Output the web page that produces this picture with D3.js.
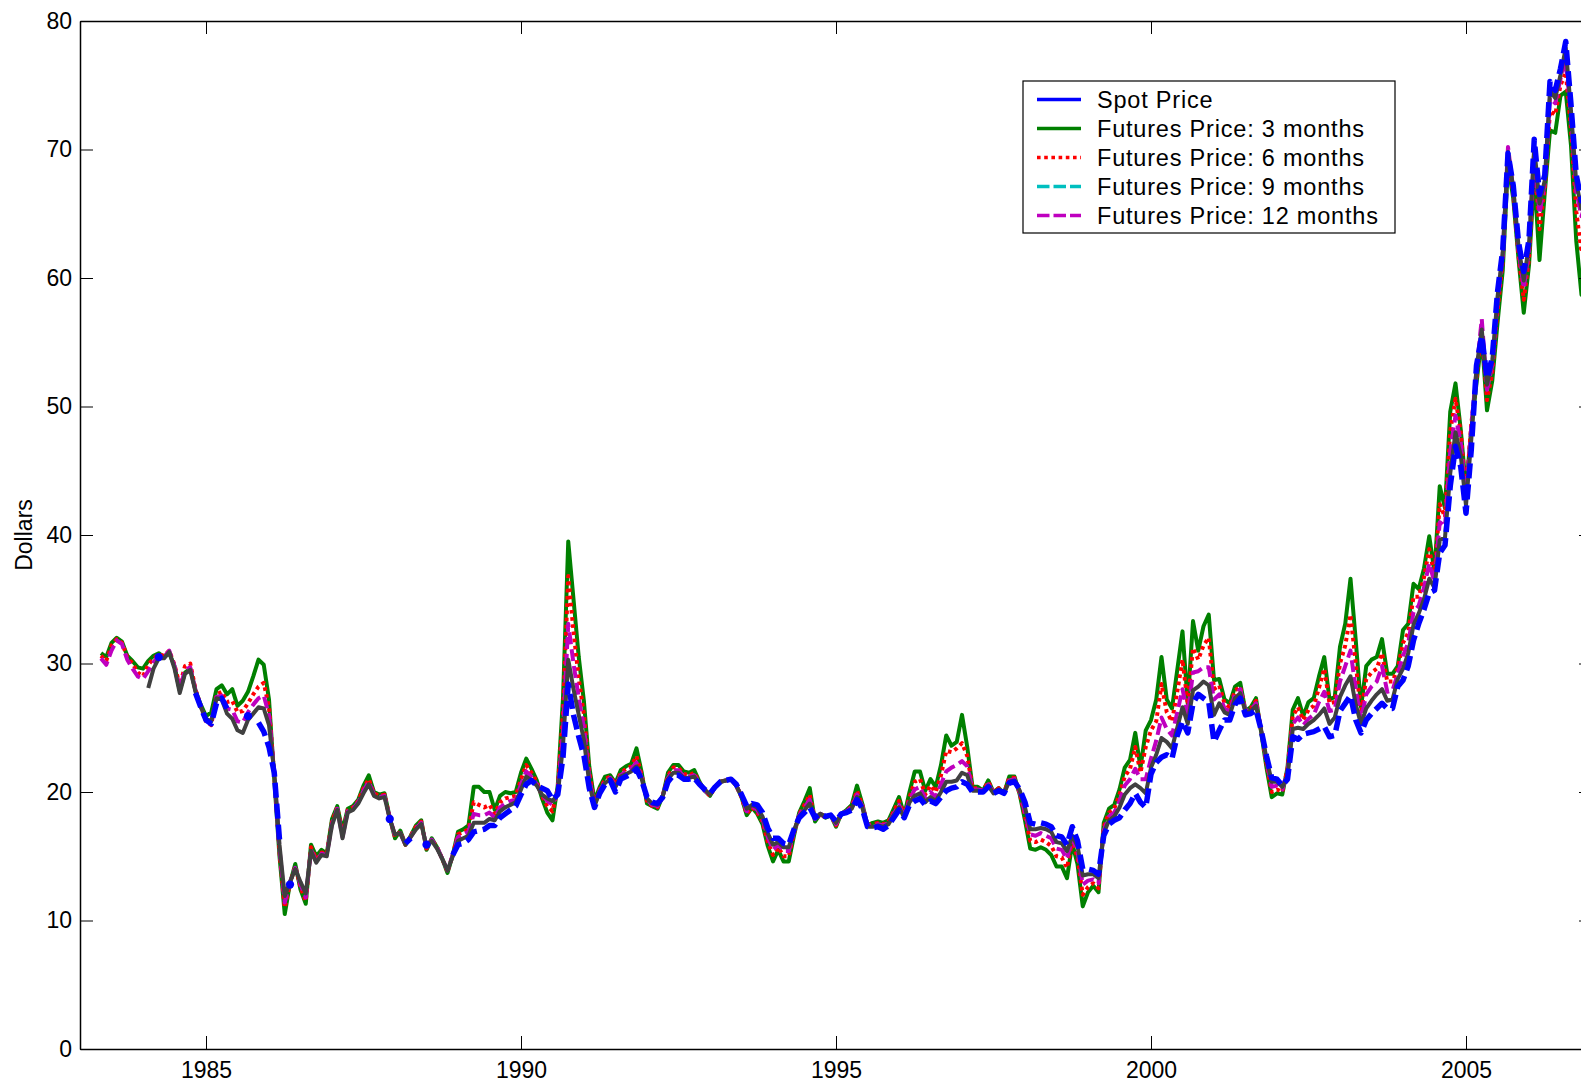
<!DOCTYPE html>
<html>
<head>
<meta charset="utf-8">
<script src="https://cdn.jsdelivr.net/npm/d3@7"></script>
<style>
  body { margin: 0; background: #fff; }
  text { font-family: "Liberation Sans", Arial, Helvetica, sans-serif; }
</style>
</head>
<body>
<svg id="chart" width="1581" height="1084"></svg>
<script>
// Month-end observations, April 1983 .. December 2006
var firstYear = 1983, firstMonth = 4;

// green solid
var spot = [
  /*1983*/ 30.8, 30.5, 31.6, 32.0, 31.7, 30.6, 30.2, 29.7, 29.6,
  /*1984*/ 30.2, 30.6, 30.8, 30.5, 30.8, 29.8, 27.9, 29.3, 29.6, 27.9, 26.8, 25.9,
  /*1985*/ 26.2, 28.0, 28.3, 27.6, 28.0, 26.7, 27.1, 27.8, 29.0, 30.3, 29.9, 27.2,
  /*1986*/ 21.0, 15.0, 10.5, 12.9, 14.4, 12.4, 11.3, 15.9, 15.0, 15.5, 15.2, 17.9,
  /*1987*/ 18.9, 17.0, 18.7, 18.9, 19.4, 20.5, 21.3, 20.0, 19.8, 19.9, 18.0, 16.4,
  /*1988*/ 17.0, 15.9, 16.6, 17.4, 17.8, 15.5, 16.4, 15.7, 14.8, 13.7, 15.1, 16.9,
  /*1989*/ 17.1, 17.4, 20.4, 20.4, 20.0, 20.0, 18.6, 19.7, 20.0, 19.9, 20.0, 21.5,
  /*1990*/ 22.6, 21.8, 20.9, 19.5, 18.4, 17.8, 20.5, 27.3, 39.5, 35.0, 30.5, 27.0,
  /*1991*/ 22.0, 19.3, 20.4, 21.2, 21.3, 20.7, 21.7, 22.0, 22.2, 23.4, 21.5, 19.1,
  /*1992*/ 18.9, 18.7, 19.7, 21.5, 22.1, 22.1, 21.6, 21.5, 21.7, 20.8, 20.1, 19.7,
  /*1993*/ 20.4, 20.8, 20.9, 21.0, 20.5, 19.6, 18.2, 18.8, 18.3, 17.5, 15.8, 14.6,
  /*1994*/ 15.5, 14.6, 14.6, 16.6, 18.4, 19.3, 20.3, 17.7, 18.3, 18.0, 18.2, 17.3,
  /*1995*/ 18.3, 18.6, 19.0, 20.5, 19.1, 17.4, 17.6, 17.7, 17.6, 17.8, 18.7, 19.6,
  /*1996*/ 18.2, 20.0, 21.6, 21.6, 20.1, 21.0, 20.4, 22.1, 24.4, 23.6, 23.9, 26.0,
  /*1997*/ 23.5, 20.4, 20.4, 20.1, 20.9, 20.0, 20.3, 19.9, 21.2, 21.2, 19.8, 17.8,
  /*1998*/ 15.6, 15.5, 15.7, 15.5, 15.1, 14.2, 14.2, 13.3, 16.0, 14.4, 11.1, 12.2,
  /*1999*/ 12.7, 12.2, 17.6, 18.7, 19.0, 20.2, 21.9, 22.5, 24.6, 21.9, 24.8, 25.6,
  /*2000*/ 27.2, 30.5, 27.2, 26.5, 29.5, 32.5, 26.9, 33.3, 31.0, 32.9, 33.8, 28.7,
  /*2001*/ 28.8, 27.2, 26.9, 28.2, 28.5, 26.3, 26.6, 27.3, 24.6, 21.9, 19.6, 19.9,
  /*2002*/ 19.8, 21.9, 26.4, 27.3, 25.9, 27.0, 27.3, 29.0, 30.5, 27.2, 27.4, 31.3,
  /*2003*/ 33.1, 36.6, 31.8, 26.6, 29.8, 30.3, 30.5, 31.9, 29.2, 29.2, 29.8, 32.6,
  /*2004*/ 33.1, 36.2, 35.8, 37.4, 39.9, 37.1, 43.8, 42.1, 49.6, 51.8, 48.2, 43.5,
  /*2005*/ 48.2, 51.8, 55.4, 49.7, 52.0, 56.5, 60.6, 68.9, 66.2, 61.5, 57.3, 61.0,
  /*2006*/ 67.9, 61.4, 66.6, 71.5, 71.3, 74.2, 74.5, 70.3, 62.9, 58.7, 61.5, 61.1
];

// red dotted
var fut3 = [
  /*1983*/ 30.6, 30.2, 31.4, 31.9, 31.6, 30.5, 30.0, 29.3, 29.0,
  /*1984*/ 29.9, 30.4, 30.7, 30.6, 31.0, 29.9, 28.3, 29.8, 30.0, 28.0, 26.7, 25.5,
  /*1985*/ 25.2, 27.6, 27.8, 27.0, 27.1, 26.2, 26.3, 26.9, 27.6, 28.2, 28.5, 26.6,
  /*1986*/ 21.3, 15.3, 11.0, 12.9, 14.2, 12.6, 11.5, 15.7, 14.8, 15.3, 15.2, 17.7,
  /*1987*/ 18.8, 16.8, 18.6, 18.8, 19.3, 20.3, 21.0, 19.9, 19.7, 19.8, 18.0, 16.5,
  /*1988*/ 16.9, 15.9, 16.6, 17.3, 17.7, 15.6, 16.3, 15.7, 14.8, 13.8, 15.1, 16.7,
  /*1989*/ 16.9, 17.1, 19.2, 19.0, 18.8, 19.0, 18.3, 19.2, 19.5, 19.6, 19.7, 21.0,
  /*1990*/ 22.1, 21.5, 20.8, 19.7, 18.9, 18.5, 20.3, 26.2, 36.8, 32.5, 28.8, 26.0,
  /*1991*/ 21.6, 19.1, 20.2, 21.0, 21.2, 20.6, 21.5, 21.8, 22.0, 22.8, 21.3, 19.3,
  /*1992*/ 18.9, 18.8, 19.7, 21.3, 21.9, 21.9, 21.4, 21.3, 21.5, 20.7, 20.1, 19.7,
  /*1993*/ 20.4, 20.8, 20.9, 21.0, 20.5, 19.6, 18.3, 18.8, 18.4, 17.7, 16.1, 15.1,
  /*1994*/ 15.7, 15.0, 15.0, 16.8, 18.3, 19.0, 19.8, 17.8, 18.3, 18.0, 18.2, 17.4,
  /*1995*/ 18.3, 18.5, 18.9, 20.1, 19.0, 17.4, 17.5, 17.6, 17.5, 17.7, 18.5, 19.3,
  /*1996*/ 18.2, 19.6, 20.8, 21.0, 19.8, 20.5, 20.0, 21.3, 23.2, 23.1, 23.4, 23.8,
  /*1997*/ 22.8, 20.3, 20.3, 20.1, 20.8, 20.0, 20.3, 19.9, 21.1, 21.1, 19.9, 18.1,
  /*1998*/ 16.2, 16.1, 16.3, 16.1, 15.8, 15.0, 14.9, 14.1, 16.2, 14.9, 12.0, 12.6,
  /*1999*/ 12.9, 12.5, 17.3, 18.4, 18.7, 19.8, 21.2, 21.8, 23.5, 21.5, 23.5, 24.8,
  /*2000*/ 25.5, 28.4, 26.2, 25.5, 27.8, 30.3, 26.8, 31.2, 30.3, 31.4, 32.0, 28.0,
  /*2001*/ 28.3, 26.9, 26.6, 27.9, 28.2, 26.3, 26.5, 27.1, 24.7, 22.2, 20.0, 20.2,
  /*2002*/ 20.0, 21.8, 25.9, 26.6, 25.6, 26.4, 26.7, 28.1, 29.6, 26.9, 27.0, 30.0,
  /*2003*/ 31.4, 33.8, 30.0, 26.1, 28.8, 29.3, 29.6, 30.8, 28.6, 28.6, 29.6, 31.6,
  /*2004*/ 32.4, 35.2, 35.2, 36.7, 38.9, 36.8, 42.4, 41.4, 48.1, 50.6, 48.0, 43.2,
  /*2005*/ 48.6, 52.3, 55.9, 50.5, 52.6, 57.4, 61.3, 69.4, 66.5, 61.8, 58.3, 61.5,
  /*2006*/ 69.2, 63.8, 67.0, 73.0, 72.7, 75.0, 76.0, 71.6, 65.2, 62.0, 64.7, 63.0
];

// magenta dashed
var fut6 = [
  /*1983*/ 30.4, 29.9, 31.0, 31.8, 31.5, 30.3, 29.6, 29.0, 28.8,
  /*1984*/ 29.4, 30.1, 30.6, 30.5, 31.0, 29.8, 28.0, 29.5, 29.7, 27.9, 26.6, 25.6,
  /*1985*/ 25.4, 27.4, 27.5, 26.5, 26.4, 25.5, 25.4, 26.2, 26.8, 27.3, 27.5, 26.0,
  /*1986*/ 21.5, 15.6, 11.4, 13.0, 14.1, 12.8, 11.8, 15.5, 14.6, 15.2, 15.1, 17.5,
  /*1987*/ 18.7, 16.5, 18.5, 18.7, 19.2, 20.1, 20.8, 19.8, 19.6, 19.7, 18.0, 16.6,
  /*1988*/ 16.8, 15.9, 16.5, 17.2, 17.6, 15.7, 16.3, 15.7, 14.8, 13.9, 15.1, 16.5,
  /*1989*/ 16.7, 16.9, 18.3, 18.2, 18.2, 18.4, 18.0, 18.8, 19.1, 19.3, 19.4, 20.6,
  /*1990*/ 21.6, 21.2, 20.6, 19.8, 19.3, 19.0, 20.0, 24.7, 33.1, 30.0, 27.3, 25.0,
  /*1991*/ 21.1, 19.0, 20.1, 20.8, 21.1, 20.5, 21.3, 21.6, 21.8, 22.3, 21.1, 19.4,
  /*1992*/ 19.0, 18.9, 19.7, 21.1, 21.7, 21.7, 21.2, 21.2, 21.3, 20.7, 20.1, 19.8,
  /*1993*/ 20.4, 20.8, 20.9, 21.0, 20.5, 19.7, 18.5, 18.9, 18.6, 17.9, 16.5, 15.5,
  /*1994*/ 15.9, 15.4, 15.4, 16.9, 18.2, 18.8, 19.4, 17.9, 18.3, 18.1, 18.2, 17.5,
  /*1995*/ 18.3, 18.5, 18.8, 19.8, 18.9, 17.4, 17.4, 17.5, 17.4, 17.6, 18.3, 19.0,
  /*1996*/ 18.1, 19.4, 20.2, 20.4, 19.5, 20.0, 19.6, 20.6, 21.6, 21.9, 22.1, 22.4,
  /*1997*/ 22.0, 20.2, 20.2, 20.1, 20.6, 20.0, 20.2, 19.9, 20.9, 21.0, 20.0, 18.4,
  /*1998*/ 16.7, 16.6, 16.8, 16.6, 16.4, 15.6, 15.5, 14.8, 16.4, 15.4, 12.8, 13.1,
  /*1999*/ 13.2, 12.9, 17.0, 18.1, 18.4, 19.3, 20.5, 21.0, 21.8, 21.0, 21.0, 22.6,
  /*2000*/ 24.0, 25.8, 24.9, 24.4, 26.2, 28.0, 26.0, 29.3, 29.4, 29.7, 29.7, 27.2,
  /*2001*/ 27.6, 26.5, 26.3, 27.6, 28.0, 26.3, 26.4, 26.9, 24.8, 22.4, 20.4, 20.5,
  /*2002*/ 20.2, 21.5, 25.3, 25.8, 25.2, 25.7, 26.0, 27.0, 27.8, 26.3, 26.4, 28.6,
  /*2003*/ 29.8, 31.0, 28.0, 25.6, 27.6, 28.2, 28.6, 29.8, 27.8, 27.9, 29.2, 30.6,
  /*2004*/ 31.6, 34.0, 34.5, 35.9, 37.8, 36.3, 41.0, 40.7, 46.5, 49.3, 47.2, 42.8,
  /*2005*/ 48.4, 52.8, 56.8, 51.3, 53.2, 58.1, 61.8, 70.2, 66.9, 62.2, 59.2, 62.2,
  /*2006*/ 70.0, 65.0, 67.4, 74.0, 73.6, 75.5, 77.0, 72.6, 66.7, 64.8, 66.0, 64.0
];

// dark grey solid
var fut9 = [
  /*1983*/ null, null, null, null, null, null, null, null, null,
  /*1984*/ 28.1, 29.6, 30.4, 30.4, 30.9, 29.6, 27.7, 29.2, 29.5, 27.8, 26.6, 25.7,
  /*1985*/ 25.5, 27.3, 27.2, 26.1, 25.7, 24.8, 24.6, 25.6, 26.1, 26.6, 26.5, 25.2,
  /*1986*/ 21.6, 15.9, 11.9, 13.0, 14.0, 13.0, 12.1, 15.4, 14.5, 15.1, 15.0, 17.4,
  /*1987*/ 18.6, 16.4, 18.4, 18.6, 19.1, 19.9, 20.6, 19.7, 19.5, 19.6, 17.9, 16.7,
  /*1988*/ 16.8, 15.9, 16.5, 17.1, 17.5, 15.8, 16.2, 15.6, 14.8, 13.9, 15.0, 16.2,
  /*1989*/ 16.4, 16.6, 17.6, 17.6, 17.6, 17.9, 17.8, 18.5, 18.8, 19.0, 19.2, 20.2,
  /*1990*/ 21.2, 20.9, 20.5, 19.8, 19.5, 19.3, 19.8, 23.6, 30.3, 28.0, 26.0, 24.0,
  /*1991*/ 20.7, 18.9, 20.0, 20.7, 21.0, 20.4, 21.2, 21.4, 21.6, 22.0, 21.0, 19.5,
  /*1992*/ 19.1, 19.0, 19.7, 21.0, 21.5, 21.5, 21.1, 21.1, 21.2, 20.6, 20.2, 19.8,
  /*1993*/ 20.4, 20.8, 20.9, 21.0, 20.5, 19.7, 18.7, 19.0, 18.8, 18.1, 16.8, 15.9,
  /*1994*/ 16.1, 15.7, 15.7, 17.0, 18.1, 18.6, 19.1, 18.0, 18.3, 18.1, 18.2, 17.6,
  /*1995*/ 18.3, 18.4, 18.7, 19.6, 18.8, 17.3, 17.3, 17.4, 17.3, 17.5, 18.2, 18.8,
  /*1996*/ 18.0, 19.2, 19.7, 19.9, 19.2, 19.6, 19.3, 20.0, 20.8, 20.8, 20.9, 21.5,
  /*1997*/ 21.3, 20.1, 20.1, 20.0, 20.5, 19.9, 20.2, 19.9, 20.8, 20.9, 20.1, 18.8,
  /*1998*/ 17.1, 17.1, 17.2, 17.1, 16.9, 16.1, 16.0, 15.4, 16.6, 15.8, 13.5, 13.6,
  /*1999*/ 13.6, 13.3, 16.8, 17.8, 18.1, 18.8, 19.8, 20.3, 20.6, 20.3, 19.9, 21.9,
  /*2000*/ 22.9, 24.2, 23.9, 23.4, 25.0, 26.6, 25.3, 27.9, 28.2, 28.6, 28.3, 26.0,
  /*2001*/ 26.9, 26.2, 26.0, 27.3, 27.7, 26.2, 26.3, 26.7, 24.8, 22.6, 20.8, 20.8,
  /*2002*/ 20.4, 21.2, 24.9, 25.0, 24.9, 25.3, 25.6, 26.0, 26.5, 25.3, 25.8, 27.4,
  /*2003*/ 28.3, 29.0, 26.8, 25.3, 26.5, 27.1, 27.6, 28.0, 27.1, 27.2, 28.8, 29.6,
  /*2004*/ 30.8, 33.0, 33.9, 35.0, 36.6, 35.9, 39.6, 39.8, 44.8, 48.0, 46.2, 42.3,
  /*2005*/ 47.4, 53.0, 56.0, 51.7, 53.5, 58.5, 62.0, 69.8, 67.0, 62.5, 59.8, 62.6,
  /*2006*/ 70.2, 65.8, 67.6, 74.6, 74.0, 75.8, 77.9, 73.0, 67.4, 65.4, 66.5, 64.6
];

// blue dashed (gaps where no quote)
var fut12 = [
  /*1983*/ null, null, null, null, null, null, null, null, null,
  /*1984*/ null, null, 30.5, null, null, null, null, null, null, 27.7, 26.6, 25.6,
  /*1985*/ 25.3, 26.9, 27.3, 26.5, null, null, null, 25.9, null, 25.4, 24.7, 23.5,
  /*1986*/ 21.5, 16.3, null, 12.8, null, null, null, null, null, null, null, null,
  /*1987*/ null, null, null, null, null, null, null, null, null, null, 17.9, null,
  /*1988*/ null, 16.0, 16.4, null, null, 15.9, null, null, null, null, 15.1, 15.9,
  /*1989*/ 16.0, 16.3, 16.9, 17.0, 17.1, 17.4, 17.4, 18.0, 18.3, 18.6, 18.9, 19.8,
  /*1990*/ 20.6, 20.9, 20.5, 20.3, 20.1, 19.4, 19.8, 22.7, 28.4, 26.0, 24.3, 22.8,
  /*1991*/ 20.3, 18.8, 19.9, 20.6, 20.9, 20.0, 21.0, 21.2, 21.4, 21.8, 20.9, 19.6,
  /*1992*/ 19.2, 19.1, 19.6, 20.8, 21.3, 21.3, 21.0, 21.0, 21.1, 20.6, 20.2, 19.9,
  /*1993*/ 20.4, 20.8, 20.9, 21.0, 20.6, 19.8, 18.9, 19.1, 19.0, 18.4, 17.2, 16.4,
  /*1994*/ 16.4, 16.0, 15.9, 17.1, 18.0, 18.4, 18.8, 18.0, 18.3, 18.1, 18.2, 17.7,
  /*1995*/ 18.3, 18.4, 18.6, 19.4, 18.7, 17.3, 17.2, 17.3, 17.1, 17.4, 18.0, 18.6,
  /*1996*/ 18.0, 19.0, 19.3, 19.5, 19.0, 19.3, 19.1, 19.6, 20.1, 20.3, 20.4, 20.8,
  /*1997*/ 20.6, 20.0, 20.0, 20.0, 20.4, 19.9, 20.1, 19.9, 20.7, 20.8, 20.2, 19.2,
  /*1998*/ 17.6, 17.5, 17.6, 17.5, 17.3, 16.6, 16.5, 15.9, 17.3, 16.2, 14.0, 14.0,
  /*1999*/ 13.9, 13.6, 16.6, 17.5, 17.8, 18.0, 18.6, 19.1, 19.9, 19.2, 18.8, 21.4,
  /*2000*/ 22.3, 22.7, 22.9, 22.6, 24.4, 25.5, 24.6, 26.9, 27.6, 27.3, 27.0, 23.9,
  /*2001*/ 24.8, 25.6, 25.6, 26.8, 27.3, 26.0, 26.1, 26.4, 24.8, 22.8, 21.1, 21.0,
  /*2002*/ 20.5, 21.0, 24.3, 24.1, 24.5, 24.6, 24.7, 24.9, 25.1, 24.3, 24.4, 26.3,
  /*2003*/ 26.9, 27.5, 25.6, 24.6, 25.6, 26.1, 26.5, 26.9, 26.5, 26.5, 28.2, 28.7,
  /*2004*/ 29.8, 31.8, 33.1, 34.2, 35.5, 35.7, 38.6, 39.2, 43.8, 46.9, 45.3, 41.7,
  /*2005*/ 46.6, 53.2, 55.5, 52.2, 53.8, 58.9, 62.2, 69.7, 67.2, 62.8, 60.5, 63.0,
  /*2006*/ 70.8, 66.5, 68.0, 75.3, 74.6, 76.3, 78.4, 73.5, 68.0, 66.0, 67.0, 65.0
];

var yTicks = [0, 10, 20, 30, 40, 50, 60, 70, 80];
var xTicks = [1985, 1990, 1995, 2000, 2005];

var legendLabels = ['Spot Price', 'Futures Price: 3 months', 'Futures Price: 6 months',
                    'Futures Price: 9 months', 'Futures Price: 12 months'];
var legendColors = ['#0000ff', '#008000', '#ff0000', '#00bfbf', '#bf00bf'];
var legendDash = [null, null, '3.6,3.6', '12.5,4', '12.5,4'];

// drawn bottom to top
var lines = [
  {values: spot,  color: '#008000', width: 4,   dash: null},
  {values: fut3,  color: '#ff0000', width: 4,   dash: '3.6,3.6'},
  {values: fut6,  color: '#bf00bf', width: 4,   dash: '12,5'},
  {values: fut9,  color: '#404040', width: 4,   dash: null},
  {values: fut12, color: '#0000ff', width: 5.5, dash: '15,6'}
];

var fontSize = 23;
var svg = d3.select('#chart');
svg.append('rect').attr('width', 1581).attr('height', 1084).attr('fill', '#fff');

var x = d3.scaleLinear().domain([1983, 2007]).range([80, 1592]);
var y = d3.scaleLinear().domain([0, 80]).range([1049, 21]);

function monthTime(i) {
  return firstYear + (firstMonth + i) / 12;   // month-end
}

svg.append('clipPath').attr('id', 'plot-clip')
  .append('rect').attr('x', 80).attr('y', 21).attr('width', 1512).attr('height', 1028);

var plot = svg.append('g').attr('clip-path', 'url(#plot-clip)');

var line = d3.line()
  .defined(function(d) { return d.v != null; })
  .x(function(d) { return x(d.t); })
  .y(function(d) { return y(d.v); });

lines.forEach(function(s) {
  var pts = s.values.map(function(v, i) { return {t: monthTime(i), v: v}; });
  plot.append('path')
    .datum(pts)
    .attr('d', line)
    .attr('fill', 'none')
    .attr('stroke', s.color)
    .attr('stroke-width', s.width)
    .attr('stroke-linejoin', 'round')
    .attr('stroke-dasharray', s.dash);
  // lone quotes show up as dots
  var lone = pts.filter(function(d, i) {
    return d.v != null && (i == 0 || pts[i - 1].v == null) && (i == pts.length - 1 || pts[i + 1].v == null);
  });
  plot.selectAll(null).data(lone).enter()
    .append('circle')
    .attr('cx', function(d) { return x(d.t); })
    .attr('cy', function(d) { return y(d.v); })
    .attr('r', s.width * 0.75)
    .attr('fill', s.color);
});

// axes box, ticks inside
function styleAxis(g) {
  g.selectAll('path').attr('stroke', '#000').attr('stroke-width', 1.5);
  g.selectAll('line').attr('stroke', '#000').attr('stroke-width', 1);
  g.selectAll('text').attr('font-size', fontSize).attr('fill', '#000')
    .attr('font-family', '"Liberation Sans", Arial, sans-serif');
}

svg.append('g').attr('transform', 'translate(0,1049)')
  .call(d3.axisBottom(x).tickValues(xTicks).tickFormat(d3.format('d'))
    .tickSizeInner(-13).tickSizeOuter(0).tickPadding(13))
  .call(styleAxis);

svg.append('g').attr('transform', 'translate(0,21)')
  .call(d3.axisTop(x).tickValues(xTicks).tickFormat('')
    .tickSizeInner(-13).tickSizeOuter(0))
  .call(styleAxis);

svg.append('g').attr('transform', 'translate(80,0)')
  .call(d3.axisLeft(y).tickValues(yTicks).tickFormat(d3.format('d'))
    .tickSizeInner(-13).tickSizeOuter(0).tickPadding(8))
  .call(styleAxis);

svg.append('g').attr('transform', 'translate(1592,0)')
  .call(d3.axisRight(y).tickValues(yTicks).tickFormat('')
    .tickSizeInner(-13).tickSizeOuter(0))
  .call(styleAxis);

svg.append('text')
  .attr('transform', 'translate(32,535) rotate(-90)')
  .attr('text-anchor', 'middle')
  .attr('font-size', fontSize)
  .text('Dollars');

// legend
var legend = svg.append('g');
legend.append('rect')
  .attr('x', 1023).attr('y', 81).attr('width', 372).attr('height', 152)
  .attr('fill', '#fff').attr('stroke', '#000').attr('stroke-width', 1.2);

var rows = legend.selectAll('g.row').data(legendLabels).enter()
  .append('g').attr('class', 'row')
  .attr('transform', function(d, i) { return 'translate(0,' + (99.5 + i * 29) + ')'; });

rows.append('line')
  .attr('x1', 1037).attr('x2', 1081).attr('y1', 0).attr('y2', 0)
  .attr('stroke', function(d, i) { return legendColors[i]; })
  .attr('stroke-width', 3.5)
  .attr('stroke-dasharray', function(d, i) { return legendDash[i]; });

rows.append('text')
  .attr('x', 1097).attr('y', 8.5)
  .attr('font-size', 23.5)
  .attr('letter-spacing', 0.8)
  .text(function(d) { return d; });
</script>
</body>
</html>
